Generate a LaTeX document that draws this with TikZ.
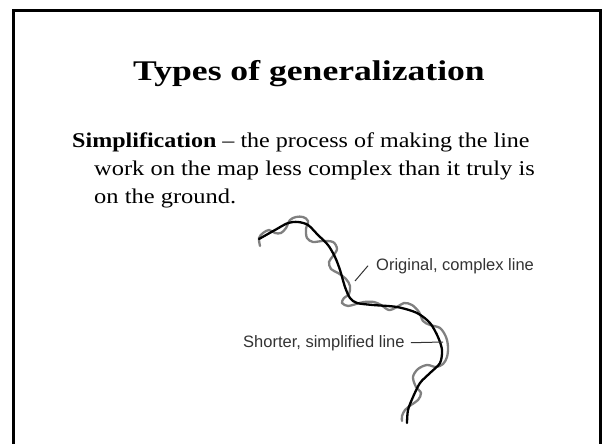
\documentclass[tikz,border=0pt]{standalone}
\usepackage{fontspec}
\setmainfont{Liberation Serif}
\newfontfamily\labelfont{Liberation Sans}
\definecolor{wiggle}{HTML}{808080}
\definecolor{labelgray}{HTML}{333333}
\newcommand{\widen}[2]{\scalebox{#1}[1]{#2}}
\begin{document}
\begin{tikzpicture}[x=1pt,y=-1pt,
  titletext/.style={anchor=base, inner sep=0pt, font=\fontsize{28.5}{32}\selectfont\bfseries},
  bodytext/.style={anchor=base west, inner sep=0pt, font=\fontsize{21}{25}\selectfont},
  maplabel/.style={anchor=base west, inner sep=0pt, text=labelgray, font=\labelfont\fontsize{16.5}{19}\selectfont},
  leader/.style={draw=labelgray, line width=1pt},
  simpleline/.style={draw=black, line width=2.3pt, line cap=round},
  complexline/.style={draw=wiggle, line width=2.3pt, line cap=round}]
\path[use as bounding box] (0,0) rectangle (602,444);
\clip (0,0) rectangle (602,444);
\draw[line width=3pt] (13.5,10.5) rectangle (600.5,446);

\node[titletext] (title) at (309,80) {\widen{1.25}{Types of generalization}};
\node[bodytext] (l1) at (72,147) {\widen{1.145}{\textbf{Simplification} – the process of making the line}};
\node[bodytext] (l2) at (94,175) {\widen{1.164}{work on the map less complex than it truly is}};
\node[bodytext] (l3) at (94,203) {\widen{1.165}{on the ground.}};

\draw[complexline]
  plot[smooth, tension=0.55] coordinates {(260,246) (259,238) (263,233) (269,230) (275,233) (281,233) (286,228) (290,220) (296,217) (303,217) (308,221) (306,229) (307,238) (313,242) (322,241) (333,242) (337,249) (333,256) (329,262) (331,269) (338,273) (346,279) (350,286) (349,294) (344,298) (342,303) (348,306) (356,304) (364,302) (374,302) (381,305) (389,310) (397,307) (404,303) (412,305) (419,312) (423,321) (430,325) (440,328) (446,337) (448,347) (447,357) (443,364) (436,367) (427,365) (418,369) (413,377) (416,387) (421,393) (418,400) (411,405) (405,410) (402,416) (402,421)};
\draw[simpleline]
  plot[smooth, tension=0.5] coordinates {(259,239) (275,230) (288,223) (298,222) (308,225) (318,235) (328,245) (335,257) (340,270) (345,287) (350,298) (357,303) (373,305) (397,307) (417,313) (430,323) (438,337) (442,350) (440,363) (430,373) (420,383) (413,397) (408,410) (407,423)};

\node[maplabel] (orig) at (376,270) {Original, complex line};
\node[maplabel] (short) at (243,347) {Shorter, simplified line};
\coordinate (origend) at (355,281);
\coordinate (shortend) at (443,342);
\draw[leader] (orig.west) ++(-8,0) coordinate (origstart) -- (origend);
\draw[leader] (short.east) ++(6,0) coordinate (shortstart) -- (shortend);
\end{tikzpicture}
\end{document}
